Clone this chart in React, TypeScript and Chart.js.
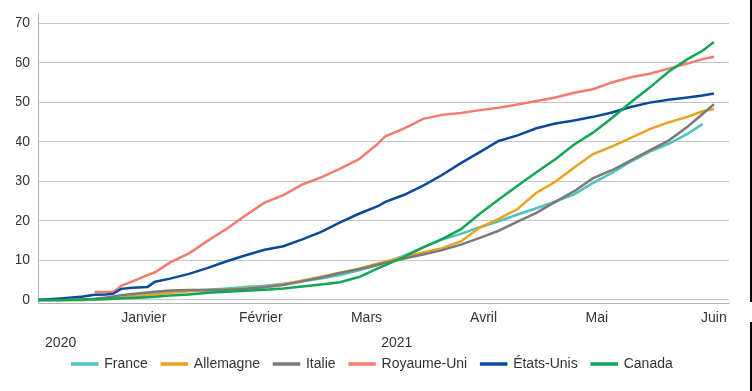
import React, { useEffect, useRef } from "react";
import { Chart, registerables } from "chart.js";

Chart.register(...registerables);

// ---- Data ----
const dates = [
  "2020-12-04", "2020-12-10", "2020-12-16", "2020-12-19", "2020-12-22", "2020-12-24",
  "2020-12-26", "2020-12-29", "2021-01-02", "2021-01-04", "2021-01-08", "2021-01-13",
  "2021-01-18", "2021-01-23", "2021-01-28", "2021-02-02", "2021-02-07", "2021-02-12",
  "2021-02-17", "2021-02-22", "2021-02-27", "2021-03-04", "2021-03-06", "2021-03-11",
  "2021-03-16", "2021-03-21", "2021-03-26", "2021-03-31", "2021-04-05", "2021-04-10",
  "2021-04-15", "2021-04-20", "2021-04-25", "2021-04-30", "2021-05-05", "2021-05-10",
  "2021-05-15", "2021-05-20", "2021-05-25", "2021-05-29", "2021-06-01",
];

const france = [
  0, 0, 0, 0.1, 0.2, 0.3, 0.5, 0.9, 1.4, 1.6, 2.0, 2.3, 2.6, 2.9, 3.3, 3.6, 4.1, 4.7,
  5.4, 6.3, 7.5, 8.8, 9.5, 11.2, 13.3, 15.3, 16.7, 18.4, 19.9, 21.6, 23.2, 24.9, 26.7,
  29.6, 32.1, 35.0, 37.5, 39.5, 42.0, 44.5, null,
];
const allemagne = [
  0, 0, 0, 0.1, 0.2, 0.3, 0.5, 0.8, 1.2, 1.4, 1.8, 2.2, 2.4, 2.6, 2.9, 3.3, 4.0, 4.9,
  5.9, 6.9, 7.9, 9.2, 9.7, 10.9, 12.0, 13.1, 14.8, 18.3, 20.5, 23.0, 27.1, 29.9, 33.5,
  36.9, 38.8, 41.0, 43.2, 44.9, 46.3, 47.7, 48.3,
];
const italie = [
  0, 0, 0.1, 0.3, 0.6, 0.9, 1.2, 1.5, 1.9, 2.1, 2.4, 2.5, 2.5, 2.6, 2.8, 3.2, 3.8, 4.7,
  5.7, 6.8, 7.8, 8.9, 9.4, 10.5, 11.5, 12.6, 14.0, 15.7, 17.5, 19.8, 22.0, 24.8, 27.5,
  30.8, 32.8, 35.3, 37.8, 40.3, 43.8, 47.0, 49.5,
];
const royaumeUni = [
  null, null, null, 2.0, 2.0, 2.0, 3.6, 4.7, 6.3, 7.0, 9.5, 11.8, 15.0, 18.0, 21.4, 24.6,
  26.5, 29.2, 31.0, 33.2, 35.6, 39.5, 41.4, 43.4, 45.8, 46.8, 47.3, 48.0, 48.6, 49.4,
  50.3, 51.2, 52.4, 53.3, 55.0, 56.3, 57.2, 58.5, 59.8, 60.9, 61.5,
];
const etatsUnis = [
  0, 0.4, 0.9, 1.3, 1.4, 1.6, 2.8, 3.1, 3.3, 4.6, 5.4, 6.6, 8.1, 9.8, 11.3, 12.7, 13.6,
  15.3, 17.2, 19.6, 21.8, 23.7, 24.8, 26.6, 28.9, 31.6, 34.6, 37.4, 40.2, 41.6, 43.4,
  44.6, 45.4, 46.3, 47.4, 48.8, 49.9, 50.6, 51.2, 51.7, 52.2,
];
const canada = [
  0, 0, 0.1, 0.2, 0.3, 0.3, 0.4, 0.5, 0.7, 0.8, 1.1, 1.4, 1.8, 2.1, 2.3, 2.6, 2.9, 3.4,
  3.9, 4.5, 5.8, 8.0, 8.8, 10.9, 13.3, 15.4, 17.9, 21.8, 25.4, 28.9, 32.3, 35.6, 39.3,
  42.3, 46.0, 50.0, 53.7, 57.7, 60.9, 63.0, 65.2,
];

const seriesNames = ["France", "Allemagne", "Italie", "Royaume-Uni", "États-Unis", "Canada"];
const seriesValues = [france, allemagne, italie, royaumeUni, etatsUnis, canada];
const seriesColors = ["#4DC3BE", "#EBA21E", "#7A7A7A", "#F47C6E", "#0A4A9B", "#11A557"];

const monthLabels = ["Janvier", "Février", "Mars", "Avril", "Mai", "Juin"];
const monthStarts = ["2021-01-01", "2021-02-01", "2021-03-01", "2021-04-01", "2021-05-01", "2021-06-01"];
const yearLabels = ["2020", "2021"];
const yearLabelDates = ["2020-12-10", "2021-03-09"];
const yTicks = [0, 10, 20, 30, 40, 50, 60, 70];
const axisStart = "2020-12-04";
const axisEnd = "2021-06-05";

const dayOf = (s: string) =>
  (Date.parse(s + "T00:00:00Z") - Date.parse("2021-01-01T00:00:00Z")) / 86400000;

const FONT = "'Liberation Sans', Arial, sans-serif";
const TEXT = "#333333";

export default function App() {
  const canvasRef = useRef<HTMLCanvasElement | null>(null);

  useEffect(() => {
    document.body.style.margin = "0";
    const canvas = canvasRef.current;
    if (!canvas) return;

    const datasets = seriesNames.map((name, si) => ({
      label: name,
      data: dates.map((d, i) => ({ x: dayOf(d), y: seriesValues[si][i] })),
      borderColor: seriesColors[si],
      backgroundColor: seriesColors[si],
      borderWidth: 2.5,
      pointRadius: 0,
      tension: 0,
      spanGaps: false,
      order: seriesNames.length - 1 - si,
    }));

    const monthDays = monthStarts.map(dayOf);
    const yearDays = yearLabelDates.map(dayOf);

    const yearLabelPlugin = {
      id: "yearLabels",
      afterDraw(c: any) {
        const xs = c.scales.x;
        const ctx = c.ctx;
        ctx.save();
        ctx.font = `14px ${FONT}`;
        ctx.fillStyle = TEXT;
        ctx.textAlign = "center";
        ctx.textBaseline = "middle";
        yearLabels.forEach((t, i) => {
          ctx.fillText(t, xs.getPixelForValue(yearDays[i]), c.chartArea.bottom + 40);
        });
        ctx.restore();
      },
    };

    const chart = new Chart(canvas, {
      type: "line",
      data: { datasets: datasets as any },
      plugins: [yearLabelPlugin],
      options: {
        animation: false,
        responsive: false,
        maintainAspectRatio: false,
        layout: { padding: { left: 16, right: 23, top: 13, bottom: 10 } },
        plugins: {
          tooltip: { enabled: false },
          legend: {
            position: "bottom",
            labels: {
              boxWidth: 25,
              boxHeight: 1,
              padding: 14,
              color: TEXT,
              font: { family: FONT, size: 14 },
              sort: (a: any, b: any) => a.datasetIndex - b.datasetIndex,
            },
          },
        },
        scales: {
          x: {
            type: "linear",
            min: dayOf(axisStart),
            max: dayOf(axisEnd),
            grid: { display: false, drawTicks: false },
            border: { display: true, color: "#b4b4b4", width: 1 },
            afterBuildTicks: (s: any) => {
              s.ticks = monthDays.map((v) => ({ value: v }));
            },
            afterFit: (s: any) => {
              s.height = 40;
              s.paddingLeft = 0;
              s.paddingRight = 0;
            },
            ticks: {
              autoSkip: false,
              maxRotation: 0,
              padding: 7,
              color: TEXT,
              font: { family: FONT, size: 14 },
              callback: (v: any) => {
                const i = monthDays.indexOf(Number(v));
                return i >= 0 ? monthLabels[i] : "";
              },
            },
          },
          y: {
            type: "linear",
            min: -0.77,
            max: 72.56,
            grid: { color: "#c6c6c6", drawTicks: false, lineWidth: 1 },
            border: { display: true, color: "#b4b4b4", width: 1 },
            afterBuildTicks: (s: any) => {
              s.ticks = yTicks.map((v) => ({ value: v }));
            },
            afterFit: (s: any) => {
              s.width = 22;
              s.paddingTop = 0;
              s.paddingBottom = 0;
            },
            ticks: {
              padding: 8,
              color: TEXT,
              font: { family: FONT, size: 14 },
            },
          },
        },
      } as any,
    });

    return () => chart.destroy();
  }, []);

  return (
    <div style={{ position: "relative", width: 752, height: 391, background: "#fff" }}>
      <canvas ref={canvasRef} width={752} height={391} style={{ display: "block" }} />
      <div style={{ position: "absolute", left: 750, top: 0, width: 2, height: 302, background: "#000" }} />
      <div style={{ position: "absolute", left: 750, top: 322, width: 2, height: 69, background: "#000" }} />
    </div>
  );
}
